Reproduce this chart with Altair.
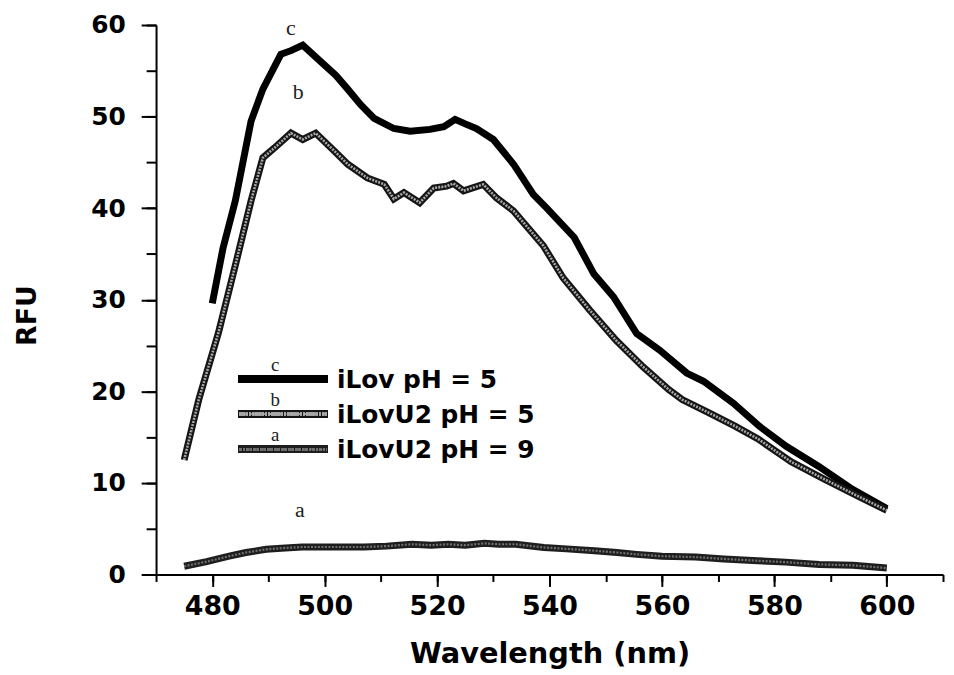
import altair as alt
import pandas as pd

# Series c: iLov pH = 5
c_x = [480, 481.9, 484.1, 486.9, 489.0, 492.2, 494.0, 496.1, 499.3, 502.0, 504.1, 506.4, 508.8,
       512.3, 515.2, 518.7, 521.2, 523.2, 525.0, 527.0, 530.0, 533.6, 537.1, 539.5, 544.4,
       547.9, 551.4, 555.5, 559.6, 564.4, 567.4, 572.7, 577.3, 582.1, 587.9, 593.9, 600]
c_y = [29.6, 35.6, 40.8, 49.5, 53.0, 56.8, 57.2, 57.8, 56.0, 54.5, 53.0, 51.3, 49.8,
       48.7, 48.4, 48.6, 48.9, 49.7, 49.2, 48.7, 47.5, 44.8, 41.5, 40.0, 36.8,
       32.8, 30.3, 26.3, 24.5, 22.0, 21.1, 18.7, 16.2, 14.0, 11.8, 9.3, 7.2]

# Series b: iLovU2 pH = 5
b_x = [475, 477.6, 481.1, 484.4, 486.9, 489.0, 491.1, 494.0, 496.1, 498.4, 501.8, 504.1, 507.6,
       510.6, 512.3, 514.1, 516.9, 519.4, 521.7, 522.9, 524.7, 528.2, 530.6, 533.6, 538.9,
       542.4, 547.1, 551.8, 556.6, 561.2, 563.6, 568.2, 573.0, 577.1, 583.0, 588.9, 594.7, 600]
b_y = [12.5, 19.1, 26.4, 34.5, 40.8, 45.5, 46.6, 48.2, 47.5, 48.2, 46.2, 44.8, 43.3,
       42.6, 41.0, 41.7, 40.6, 42.2, 42.4, 42.7, 41.9, 42.6, 41.1, 39.7, 35.9,
       32.4, 28.9, 25.6, 22.7, 20.2, 19.1, 17.7, 16.2, 14.8, 12.3, 10.4, 8.6, 7.0]

# Series a: iLovU2 pH = 9
a_x = [475, 479, 483, 486, 489.6, 493, 496, 500, 507, 511, 515.5, 519, 522, 525, 528.4, 531,
       534, 539, 543, 548, 552, 555.5, 560, 566, 571, 577, 582, 588, 594, 600]
a_y = [0.9, 1.4, 2.0, 2.4, 2.75, 2.9, 3.0, 3.0, 3.0, 3.1, 3.3, 3.2, 3.3, 3.2, 3.4, 3.3,
       3.3, 2.95, 2.8, 2.6, 2.4, 2.2, 2.0, 1.9, 1.7, 1.5, 1.35, 1.1, 1.0, 0.7]

# Curve letter annotations
ann_letters = ["c", "b", "a"]
ann_x = [494.0, 495.3, 495.6]
ann_y = [58.4, 51.4, 5.7]

# Legend entries
legend_labels = ["iLov pH = 5", "iLovU2 pH = 5", "iLovU2 pH = 9"]
legend_letters = ["c", "b", "a"]

x_major = [480, 500, 520, 540, 560, 580, 600]
x_minor = list(range(470, 611, 10))
y_major = [0, 10, 20, 30, 40, 50, 60]
y_minor = list(range(0, 61, 5))

dc = pd.DataFrame({"x": c_x, "y": c_y})
db = pd.DataFrame({"x": b_x, "y": b_y})
da = pd.DataFrame({"x": a_x, "y": a_y})
dann = pd.DataFrame({"t": ann_letters, "x": ann_x, "y": ann_y})

xs = alt.Scale(domain=[470, 610], nice=False, zero=False)
ys = alt.Scale(domain=[0, 60], nice=False)

FONT = "DejaVu Sans"

# line styles
C_COL, C_W = "black", 7
B_OUT, B_OW, B_IN, B_IW, B_DASH = "#151515", 7, "#a8a8a8", 2.6, [2, 1.2]
A_OUT, A_OW, A_IN, A_IW, A_DASH = "#1e1e1e", 7, "#707070", 2.2, [2, 1.5]

x_axis_major = alt.Axis(values=x_major, tickSize=12, tickWidth=2, domainWidth=2,
                        domainColor="black", tickColor="black", labelFont=FONT,
                        labelFontWeight="bold", labelFontSize=27, labelColor="black",
                        labelPadding=7, title="Wavelength (nm)", titleFont=FONT,
                        titleFontSize=29, titleFontWeight="bold", titleColor="black",
                        titleBaseline="middle", titleY=80, grid=False, orient="bottom")
x_axis_minor = alt.Axis(values=x_minor, tickSize=7, tickWidth=2, tickColor="black",
                        labels=False, domain=False, title=None, grid=False, orient="bottom")
y_axis_major = alt.Axis(values=y_major, tickSize=15, tickWidth=2, domainWidth=2,
                        domainColor="black", tickColor="black", labelFont=FONT,
                        labelFontWeight="bold", labelFontSize=25, labelColor="black",
                        labelPadding=16, title="RFU", titleFont=FONT, titleFontSize=27,
                        titleFontWeight="bold", titleColor="black", titleAngle=-90,
                        titleBaseline="middle", titleX=-129, titleY=292, grid=False,
                        orient="left")
y_axis_minor = alt.Axis(values=y_minor, tickSize=10, tickWidth=2, tickColor="black",
                        labels=False, domain=False, title=None, grid=False, orient="left")

c_line = alt.Chart(dc).mark_line(color=C_COL, strokeWidth=C_W).encode(
    x=alt.X("x:Q", scale=xs, axis=x_axis_major),
    y=alt.Y("y:Q", scale=ys, axis=y_axis_major),
)
b_outer = alt.Chart(db).mark_line(color=B_OUT, strokeWidth=B_OW).encode(
    x=alt.X("x:Q", scale=xs, axis=x_axis_minor),
    y=alt.Y("y:Q", scale=ys, axis=y_axis_minor),
)
b_inner = alt.Chart(db).mark_line(color=B_IN, strokeWidth=B_IW, strokeDash=B_DASH).encode(
    x=alt.X("x:Q", scale=xs, axis=None),
    y=alt.Y("y:Q", scale=ys, axis=None),
)
a_outer = alt.Chart(da).mark_line(color=A_OUT, strokeWidth=A_OW).encode(
    x=alt.X("x:Q", scale=xs, axis=None),
    y=alt.Y("y:Q", scale=ys, axis=None),
)
a_inner = alt.Chart(da).mark_line(color=A_IN, strokeWidth=A_IW, strokeDash=A_DASH).encode(
    x=alt.X("x:Q", scale=xs, axis=None),
    y=alt.Y("y:Q", scale=ys, axis=None),
)
ann = alt.Chart(dann).mark_text(font="Liberation Serif", fontSize=22, color="#222",
                                baseline="bottom").encode(
    x=alt.X("x:Q", scale=xs, axis=None),
    y=alt.Y("y:Q", scale=ys, axis=None),
    text="t:N",
)

# Legend (drawn in pixel space of the plot area)
leg_layers = []
row0, step = 356, 35.5
styles = [
    [(C_COL, C_W, None)],
    [(B_OUT, B_OW, None), (B_IN, B_IW, B_DASH)],
    [(A_OUT, A_OW, None), (A_IN, A_IW, A_DASH)],
]
for i, (lab, let) in enumerate(zip(legend_labels, legend_letters)):
    yy = row0 + i * step
    for k, (col, w, dash) in enumerate(styles[i]):
        kw = {"color": col, "strokeWidth": w}
        if dash:
            kw["strokeDash"] = dash
        leg_layers.append(alt.Chart(dc).mark_rule(**kw).encode(
            x=alt.value(83 + k), x2=alt.value(173 - k), y=alt.value(yy)))
    leg_layers.append(alt.Chart(pd.DataFrame({"t": [lab]})).mark_text(
        font=FONT, fontWeight="bold", fontSize=25, color="black", align="left",
        baseline="middle").encode(x=alt.value(182), y=alt.value(yy + 1), text="t:N"))
    leg_layers.append(alt.Chart(pd.DataFrame({"t": [let]})).mark_text(
        font="Liberation Serif", fontSize=19, color="#222", align="center",
        baseline="bottom").encode(x=alt.value(120), y=alt.value(yy - 4), text="t:N"))

chart = alt.layer(c_line, b_outer, b_inner, a_outer, a_inner, ann, *leg_layers).resolve_axis(
    x="independent", y="independent"
).properties(
    width=792, height=553,
    autosize=alt.AutoSizeParams(type="none"),
    padding={"left": 149, "top": 15, "right": 3, "bottom": 95},
    background="white",
).configure_view(stroke=None)

chart.save("out.html", embed_options={"renderer": "svg", "actions": False})
